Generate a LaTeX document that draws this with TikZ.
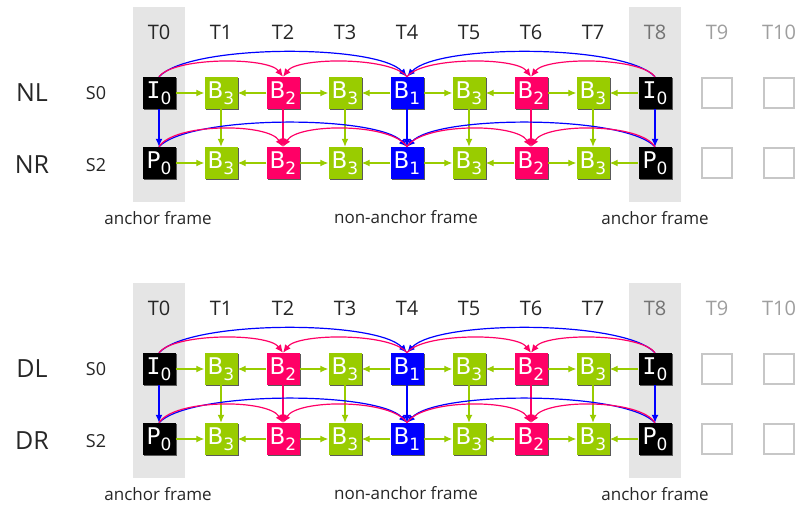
\documentclass[tikz,border=0pt]{standalone}
\usepackage{fontspec}
\setmainfont{Open Sans}
\newfontfamily\boxfont{DejaVu Sans}
\newfontfamily\serifI{DejaVu Sans Mono}
\usetikzlibrary{arrows.meta,shadows}
\definecolor{fgreen}{HTML}{99CC00}
\definecolor{fpink}{HTML}{FF0066}
\definecolor{fblue}{HTML}{0000FF}
\definecolor{bandgrey}{HTML}{E5E5E5}
\newcommand{\lbl}[2]{#1\raisebox{-6pt}{\fontsize{17}{17}\selectfont #2}}
\newcommand{\fI}{{\serifI I}}
\begin{document}
\begin{tikzpicture}[x=1pt,y=-1pt,
  frm/.style={minimum width=33pt, minimum height=32pt, inner sep=0pt, text=white,
    font=\boxfont\fontsize{23}{23}\selectfont,
    general shadow={fill=black!65, shadow xshift=1.2pt, shadow yshift=-1.2pt}},
  fi/.style={frm, fill=black},
  fg/.style={frm, fill=fgreen},
  fp/.style={frm, fill=fpink},
  fb/.style={frm, fill=fblue},
  emptybox/.style={minimum width=30pt, minimum height=30pt, inner sep=0pt, draw=black!22, line width=1.3pt},
  arr/.style={line width=1.2pt, -{Latex[length=8pt,width=7pt]}},
  tlab/.style={font=\fontsize{20}{20}\selectfont},
  rowlab/.style={font=\fontsize{25}{25}\selectfont, text=black!85},
  slab/.style={font=\fontsize{18}{18}\selectfont, text=black!85},
  flab/.style={font=\fontsize{17}{17}\selectfont, text=black!85}]
\useasboundingbox (0,0) rectangle (799,506);
\foreach \off/\lA/\lB/\sec in {0/NL/NR/a, 276/DL/DR/b} {
  \fill[bandgrey] (133,7+\off) rectangle (185,202+\off);
  \fill[bandgrey] (629,7+\off) rectangle (681,202+\off);
  \foreach \i/\tc in {0/black!85,1/black!85,2/black!85,3/black!85,4/black!85,5/black!85,6/black!85,7/black!85,8/black!55,9/black!38,10/black!38}
    \node[tlab, text=\tc] (\sec-t\i) at (159+62*\i, 32+\off) {T\i};
  \node[rowlab] (\sec-rA) at (32, 93+\off) {\lA};
  \node[rowlab] (\sec-rB) at (32, 165+\off) {\lB};
  \node[slab] (\sec-sA) at (96, 93+\off) {S0};
  \node[slab] (\sec-sB) at (96, 165+\off) {S2};
  \node[flab] (\sec-fl) at (158, 218+\off) {anchor frame};
  \node[flab] (\sec-fm) at (406, 217+\off) {non-anchor frame};
  \node[flab] (\sec-fr) at (655, 218+\off) {anchor frame};
  \foreach \i/\st/\lt/\lb/\sub/\cc in {0/fi/\fI/P/0/fblue, 1/fg/B/B/3/fgreen, 2/fp/B/B/2/fpink, 3/fg/B/B/3/fgreen, 4/fb/B/B/1/fblue, 5/fg/B/B/3/fgreen, 6/fp/B/B/2/fpink, 7/fg/B/B/3/fgreen, 8/fi/\fI/P/0/fblue} {
    \node[\st] (\sec-0-\i) at (159+62*\i, 93+\off) {\lbl{\lt}{\sub}};
    \node[\st] (\sec-1-\i) at (159+62*\i, 163+\off) {\lbl{\lb}{\sub}};
    \draw[arr, \cc] (\sec-0-\i) -- (\sec-1-\i);
  }
  \foreach \r/\y in {0/93, 1/163} {
    \node[emptybox] (\sec-\r-9) at (717, \y+\off) {};
    \node[emptybox] (\sec-\r-10) at (779, \y+\off) {};
  }
  \foreach \r/\kb/\kp in {0/33/20, 1/32/24} {
    \foreach \s/\t in {0/1,2/1,2/3,4/3,4/5,6/5,6/7,8/7}
      \draw[arr, fgreen] (\sec-\r-\s) -- (\sec-\r-\t);
    \draw[arr, fblue] (\sec-\r-0.north) .. controls +(30,-\kb) and +(-30,-\kb) .. (\sec-\r-4.north);
    \draw[arr, fblue] (\sec-\r-8.north) .. controls +(-30,-\kb) and +(30,-\kb) .. (\sec-\r-4.north);
    \draw[arr, fpink] (\sec-\r-0.north) .. controls +(15,-\kp) and +(-15,-\kp) .. (\sec-\r-2.north);
    \draw[arr, fpink] (\sec-\r-4.north) .. controls +(-15,-\kp) and +(15,-\kp) .. (\sec-\r-2.north);
    \draw[arr, fpink] (\sec-\r-4.north) .. controls +(15,-\kp) and +(-15,-\kp) .. (\sec-\r-6.north);
    \draw[arr, fpink] (\sec-\r-8.north) .. controls +(-15,-\kp) and +(15,-\kp) .. (\sec-\r-6.north);
  }
}
\end{tikzpicture}
\end{document}
